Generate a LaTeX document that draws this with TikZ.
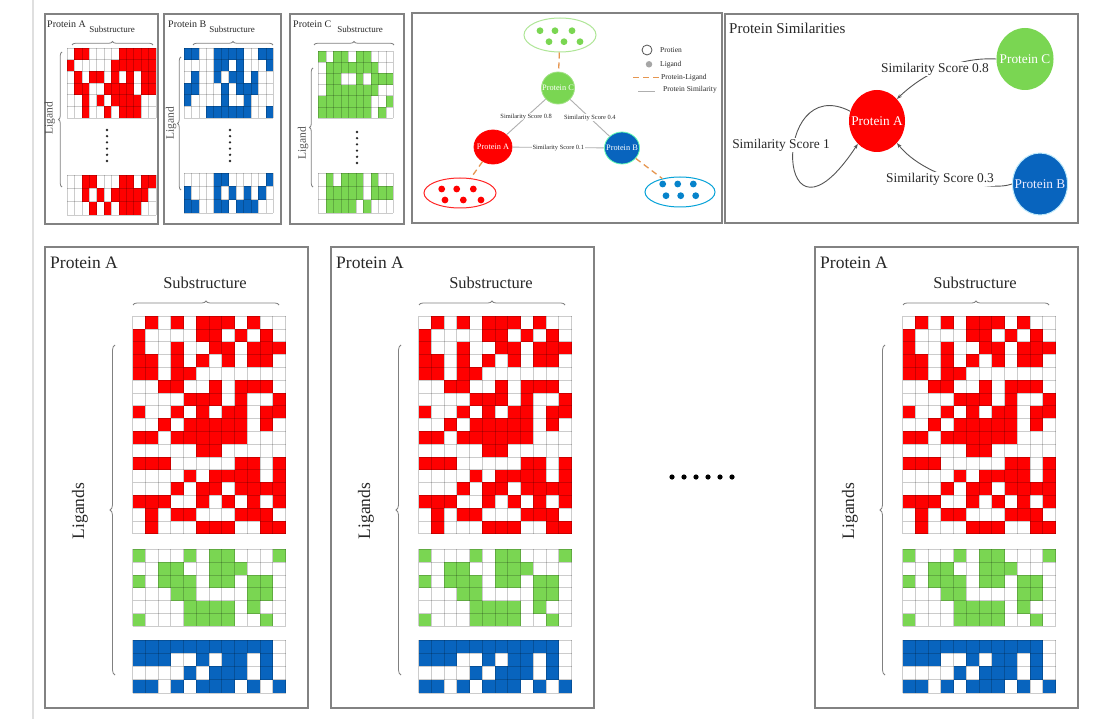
\documentclass[tikz,border=0pt]{standalone}
\usepackage{fontspec}
\setmainfont{Liberation Serif}
\usetikzlibrary{decorations.pathreplacing,arrows.meta,shapes.geometric,calc}
\definecolor{pred}{RGB}{255,0,0}
\definecolor{pblue}{RGB}{8,100,190}
\definecolor{pgreen}{RGB}{122,214,82}
\definecolor{frame}{RGB}{130,130,130}
\definecolor{txt}{RGB}{40,40,40}
\definecolor{dorange}{RGB}{230,150,80}
\definecolor{simgray}{RGB}{175,175,175}
\definecolor{edgegray}{RGB}{85,85,85}

\newcommand\cellgrid[8]{%
  \foreach \rowlist [count=\rr] in #8 {%
    \foreach \vv [count=\cc] in \rowlist {%
      \ifnum\vv=1 \fill[#5] ({#1+(\cc-1)*#3},{#2+(\rr-1)*#4}) rectangle ++(#3,#4);\fi
    }%
  }%
  \foreach \k in {0,...,#7}{\draw[gridl] (#1,{#2+\k*#4}) -- ++({#6*#3},0);}%
  \foreach \k in {0,...,#6}{\draw[gridl] ({#1+\k*#3},#2) -- ++(0,{#7*#4});}%
}
\newcommand\zbox[1]{\smash{\raisebox{-0.33em}{\makebox[0pt]{#1}}}}

\def\redrows{{0,1,0,1,0,1,1,1,0,1,0,0},{1,0,0,0,0,1,1,0,1,0,1,0},{1,0,0,1,0,0,1,1,0,1,1,1},{1,1,0,1,0,1,0,1,0,1,1,0},{1,1,0,1,1,0,0,0,0,0,0,0},{0,0,1,1,0,0,1,0,1,1,1,0},{0,0,0,0,1,1,1,0,1,0,0,1},{1,0,0,1,0,1,0,1,1,0,1,1},{0,0,1,0,1,1,1,1,1,0,1,0},{1,1,0,1,1,1,1,1,1,0,0,0},{0,0,0,0,0,1,1,0,0,0,0,0},{1,1,1,0,0,0,0,0,1,1,0,1},{0,0,0,0,1,0,1,1,1,1,0,1},{0,0,0,1,0,1,1,0,1,1,1,1},{1,1,1,0,0,1,0,1,0,1,0,1},{0,1,0,1,1,0,0,0,1,1,1,0},{0,1,0,0,0,1,1,1,0,0,1,1}}
\def\greenrows{{1,0,0,0,1,0,1,1,0,0,0,1},{0,0,1,1,0,0,1,1,1,0,0,0},{1,0,1,1,1,0,1,1,0,1,1,0},{0,0,0,1,1,0,0,0,0,1,1,0},{0,0,0,0,1,1,1,1,0,1,0,0},{1,0,0,0,1,1,1,1,0,0,1,0}}
\def\bluerows{{1,1,1,1,1,1,1,1,1,1,1,0},{1,1,1,0,0,1,0,1,1,0,1,0},{0,0,0,0,1,0,1,1,1,0,1,0},{1,1,0,1,0,1,1,1,0,1,0,1}}
\def\Atop{{0,1,1,0,0,0,0,1,1,1,1,1},{1,0,0,0,0,0,1,1,1,1,1,1},{0,1,0,1,1,0,1,0,1,0,1,1},{0,1,1,0,0,1,1,1,1,0,1,1},{0,0,1,0,1,0,1,1,1,1,0,0},{0,0,1,0,0,1,0,1,1,1,0,0}}
\def\Abot{{0,0,1,1,0,0,0,1,1,0,1,1},{0,0,1,0,1,0,1,1,1,1,1,0},{0,0,0,1,0,1,0,1,1,1,0,0}}
\def\Btop{{1,1,0,0,1,1,1,1,0,0,1,1},{0,0,0,0,1,1,0,1,0,0,0,1},{0,1,0,0,1,0,1,1,0,1,0,0},{1,1,0,0,0,1,0,1,1,1,0,0},{1,0,0,0,0,1,0,0,1,0,0,0},{0,0,0,1,1,1,1,1,1,0,0,1}}
\def\Bbot{{0,0,0,0,1,1,0,0,0,0,0,1},{1,0,0,0,1,0,1,0,1,0,1,0},{1,1,0,0,1,1,0,1,1,1,0,0}}
\def\Ctop{{1,0,1,1,0,1,1,0,0,0},{0,1,1,1,1,1,1,1,0,0},{0,1,1,0,0,1,0,1,1,1},{0,1,1,1,1,1,1,1,0,0},{1,1,1,1,1,1,1,0,0,1},{1,1,1,1,1,1,1,0,1,0}}
\def\Cbot{{0,1,0,1,1,1,0,1,0,0},{0,1,1,1,1,1,0,1,1,1},{0,1,1,1,1,0,1,0,0,0}}

\begin{document}
\begin{tikzpicture}[x=1pt,y=-1pt,
  panel/.style={draw=frame, line width=1.1pt},
  gridl/.style={draw=black, draw opacity=0.2, line width=0.6pt},
  brc/.style={draw=gray, line width=0.8pt, decorate, decoration={brace, amplitude=#1}},
  brc/.default=4,
  bigt/.style={font=\fontsize{17.5}{20}\selectfont, text=txt, inner sep=0pt},
  subt/.style={font=\fontsize{16.5}{19}\selectfont, text=txt, inner sep=0pt},
  smt/.style={font=\fontsize{10}{12}\selectfont, text=txt, inner sep=0pt},
  sst/.style={font=\fontsize{9}{11}\selectfont, text=txt, inner sep=0pt},
  ligt/.style={font=\fontsize{11.5}{13}\selectfont, text=txt!80, inner sep=0pt},
  gnode/.style={ellipse, inner sep=0pt, text=white, font=\fontsize{8.3}{10}\selectfont, line width=0.8pt},
  lgel/.style={ellipse, inner sep=0pt, line width=1pt},
  pl/.style={draw=dorange, line width=1.3pt, dash pattern=on 6pt off 4pt},
  sl/.style={draw=simgray, line width=0.9pt},
  slabel/.style={fill=white, inner sep=0.6pt, text=txt, font=\fontsize{6.4}{7}\selectfont},
  legt/.style={anchor=west, inner sep=0pt, text=txt, font=\fontsize{7.5}{9}\selectfont},
  snode/.style={ellipse, inner sep=0pt, text=white, font=\fontsize{13.3}{15}\selectfont},
  sedge/.style={draw=edgegray, line width=0.9pt, -{Stealth[length=5pt,width=3.6pt]}},
  stext/.style={fill=white, inner sep=1pt, text=txt, font=\fontsize{13.4}{15}\selectfont}
]
\fill[white] (0,0) rectangle (1115,719);
\useasboundingbox (0,0) rectangle (1115,719);
\draw[gray!25, line width=1.2pt] (33,0) -- (33,719);

% ---------------- top small panels ----------------
% Protein A
\draw[panel] (45,14) rectangle (158,224);
\node[smt, anchor=west] (tA) at (47,24) {Protein A};
\node[sst] (tAs) at (112,29) {Substructure};
\draw[brc=3.5] (72,45) -- (153,45);
\draw[brc=3.5] (62,187) -- (62,52);
\node[ligt, rotate=90] (tAl) at (50,118) {Ligand};
\cellgrid{67}{48}{7.4}{11.7}{pred}{12}{6}{\Atop}
\cellgrid{67}{175}{7.4}{13.3}{pred}{12}{3}{\Abot}
\foreach \k in {0,...,5} \fill[txt] (107,{130+6.2*\k}) circle (1.3);
% Protein B
\draw[panel] (164,14) rectangle (281,224);
\node[smt, anchor=west] (tB) at (168,24) {Protein B};
\node[sst] (tBs) at (232,29) {Substructure};
\draw[brc=3.5] (193,45) -- (273,45);
\draw[brc=3.5] (181,190) -- (181,57);
\node[ligt, rotate=90] (tBl) at (171,123) {Ligand};
\cellgrid{184}{48}{7.44}{11.7}{pblue}{12}{6}{\Btop}
\cellgrid{184}{173}{7.44}{13.3}{pblue}{12}{3}{\Bbot}
\foreach \k in {0,...,5} \fill[txt] (230,{130+6.2*\k}) circle (1.3);
% Protein C
\draw[panel] (290,14) rectangle (404,224);
\node[smt, anchor=west] (tC) at (293,24) {Protein C};
\node[sst] (tCs) at (360,29) {Substructure};
\draw[brc=3.5] (314,45) -- (394,45);
\draw[brc=3.5] (313,187) -- (313,68);
\node[ligt, rotate=90] (tCl) at (303,143) {Ligand};
\cellgrid{318.3}{51}{7.5}{11.2}{pgreen}{10}{6}{\Ctop}
\cellgrid{318.3}{173}{7.5}{13.3}{pgreen}{10}{3}{\Cbot}
\foreach \k in {0,...,5} \fill[txt] (357,{132+6.2*\k}) circle (1.3);

% ---------------- graph panel ----------------
\draw[panel] (412,13) rectangle (722,223);
\node[lgel, draw=pgreen!60, minimum width=72, minimum height=34] (lC) at (560,35) {};
\node[lgel, draw=pred!85, minimum width=72, minimum height=30] (lA) at (460,193) {};
\node[lgel, draw=pblue!60!cyan, minimum width=70, minimum height=30] (lB) at (680,192) {};
\foreach \x/\y in {540/30.7,555/30.7,572/30.7,549/41.7,564/41.7,580/41.7} \fill[pgreen] (\x,\y) circle (3.4);
\foreach \x/\y in {441.7/189,456.7/189,473.3/189,445/200,463.3/200,481/200} \fill[pred] (\x,\y) circle (3.4);
\foreach \x/\y in {662.7/184,677.7/184,693.3/184,666/195.7,680.7/195.7,695.7/195.7} \fill[pblue!80!cyan] (\x,\y) circle (3.4);
\node[gnode, fill=pgreen, draw=pgreen!70, minimum width=33, minimum height=32] (gC) at (558,88) {\zbox{Protein C}};
\node[gnode, fill=pred, draw=pred, minimum width=38, minimum height=34] (gA) at (493,147) {\zbox{Protein A}};
\node[gnode, fill=pblue, draw=green!50!cyan!60, minimum width=35, minimum height=32] (gB) at (622,148) {\zbox{Protein B}};
\draw[pl] (lC) -- (gC);
\draw[pl] (gA) -- (lA);
\draw[pl] (gB) -- (lB);
\draw[sl] (gA) -- node[slabel] (s08) {Similarity Score 0.8} (gC);
\draw[sl] (gC) -- node[slabel] (s04) {Similarity Score 0.4} (gB);
\draw[sl] (gA) -- node[slabel] (s01) {Similarity Score 0.1} (gB);
% legend
\node[circle, draw=txt!80, line width=0.8pt, minimum size=10, inner sep=0pt] (legP) at (647,50) {};
\node[legt] (legPt) at (660,50) {Protien};
\node[circle, fill=gray!70, minimum size=6.5, inner sep=0pt] (legL) at (649,64.3) {};
\node[legt] (legLt) at (660,64.3) {Ligand};
\coordinate (lpa) at (633,77.7);
\node[legt] (legPL) at (661,77.7) {Protein-Ligand};
\draw[pl] (lpa) -- (legPL.west);
\coordinate (lsa) at (638,91.7);
\coordinate (lsb) at (655,91.7);
\draw[sl] (lsa) -- (lsb);
\node[legt] (legPS) at (663,90) {Protein Similarity};

% ---------------- similarity panel ----------------
\draw[panel] (725,14) rectangle (1078,223);
\node[anchor=west, inner sep=0pt, text=txt, font=\fontsize{15}{17}\selectfont] (stitle) at (729,28) {Protein Similarities};
\node[snode, fill=pgreen, minimum width=57, minimum height=62] (sC) at (1025,59) {\zbox{Protein C}};
\node[snode, fill=pred, minimum width=56, minimum height=62] (sA) at (877,121) {\zbox{Protein A}};
\node[snode, fill=pblue, draw=cyan!25, line width=1pt, text=blue!8, minimum width=55, minimum height=62] (sB) at (1040,184) {\zbox{Protein B}};
\draw[sedge] (sC.west) .. controls (960,57) and (925,72) .. (sA.north east);
\draw[sedge] (sB.west) .. controls (990,192) and (925,178) .. (sA.south east);
\draw[sedge] (sA.160) .. controls (770,70) and (775,270) .. (sA.230);
\node[stext] (l08) at (935,69) {Similarity Score 0.8};
\node[stext] (l03) at (940,179) {Similarity Score 0.3};
\node[stext] (l1) at (781,145) {Similarity Score 1};

% ---------------- bottom panels ----------------
\foreach \dx [count=\i] in {0,286,770}{
  \begin{scope}[xshift=\dx pt]
    \draw[panel] (45,247) rectangle (308,708);
    \node[bigt, anchor=west] (bt\i) at (50,263) {Protein A};
    \node[subt] (bs\i) at (205,283) {Substructure};
    \draw[brc=4] (133,305) -- (279,305);
    \draw[brc=5] (115,675) -- (115,345);
    \node[bigt, rotate=90] (bl\i) at (80,511) {Ligands};
    \cellgrid{132.5}{316}{12.75}{12.8}{pred}{12}{17}{\redrows}
    \cellgrid{132.5}{549}{12.75}{12.9}{pgreen}{12}{6}{\greenrows}
    \cellgrid{132.5}{640}{12.75}{13.2}{pblue}{12}{4}{\bluerows}
  \end{scope}
}
\foreach \k in {0,...,5} \fill[black] ({672+12*\k},477) circle (2.6);
\end{tikzpicture}
\end{document}
